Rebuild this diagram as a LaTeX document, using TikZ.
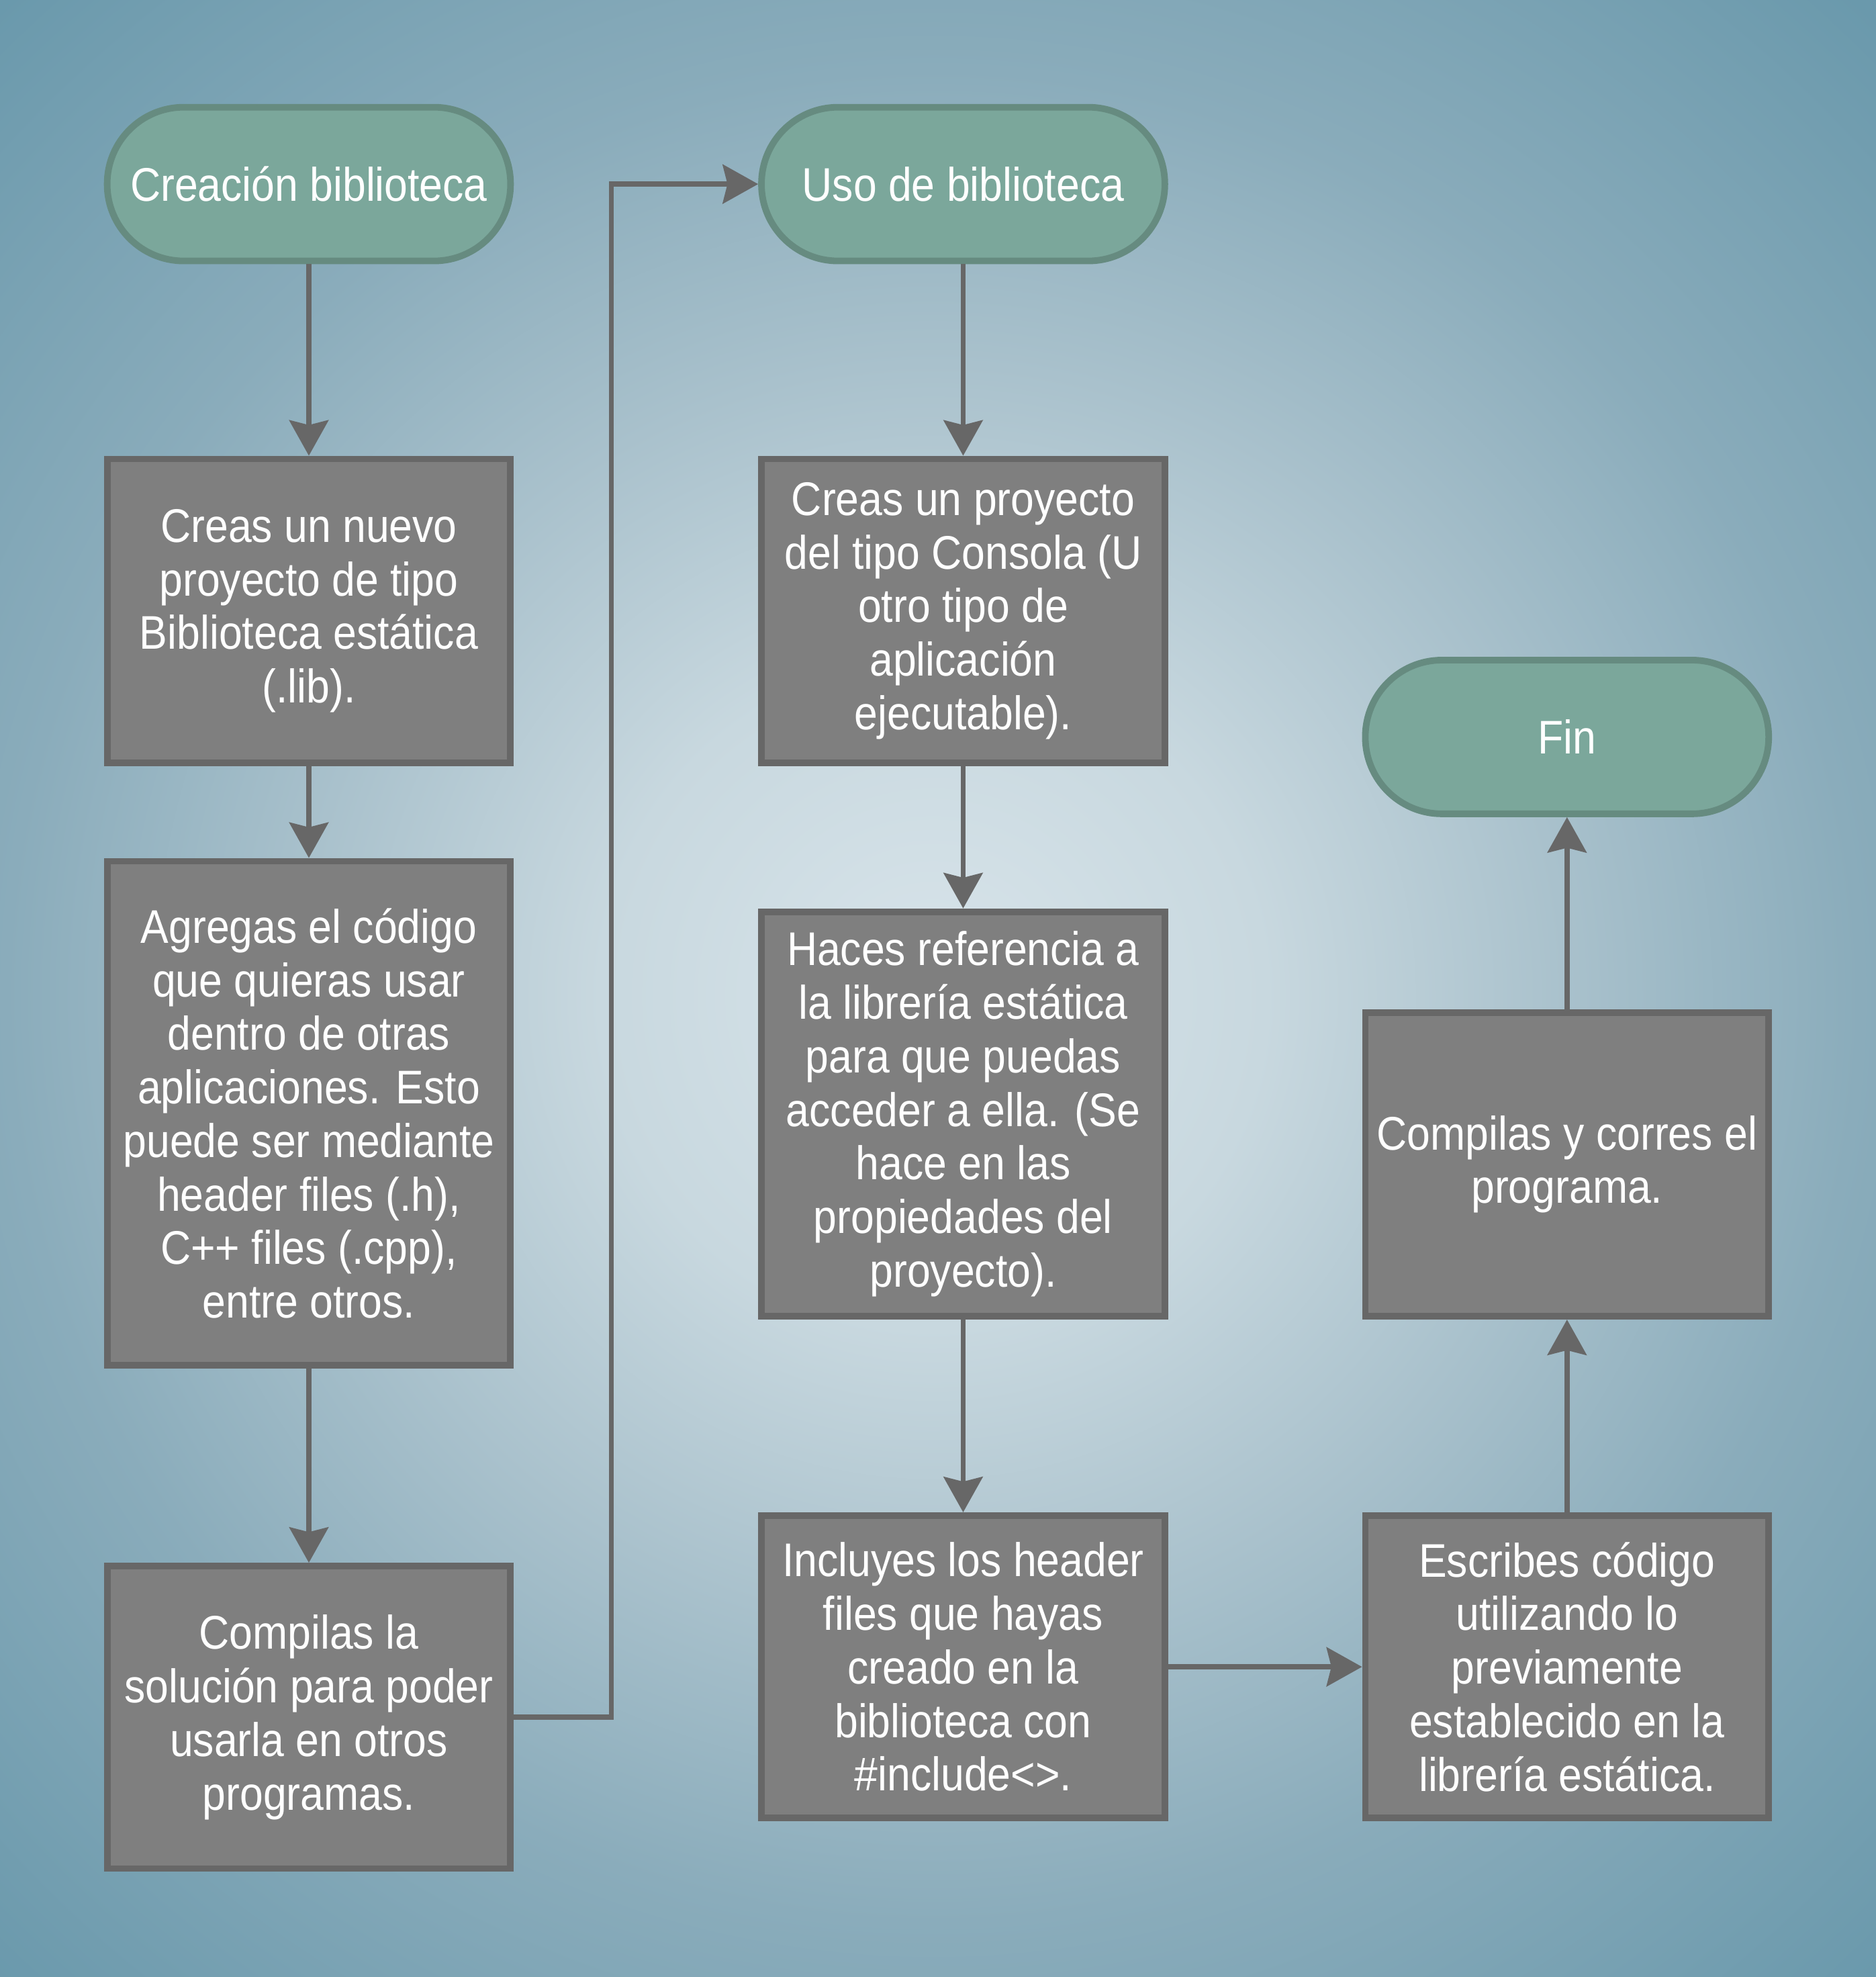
\documentclass[tikz,border=0pt]{standalone}
\usepackage{fontspec}
\setmainfont{Liberation Sans}[FakeStretch=0.89]
\usetikzlibrary{arrows.meta,positioning}
\definecolor{bg0}{HTML}{D8E4EA}
\definecolor{bg1}{HTML}{C8D8DF}
\definecolor{bg2}{HTML}{A9C1CC}
\definecolor{bg3}{HTML}{8AACBB}
\definecolor{bg4}{HTML}{6A99AC}
\definecolor{boxfill}{HTML}{7F7F7F}
\definecolor{boxline}{HTML}{676767}
\definecolor{termfill}{HTML}{7BA79B}
\definecolor{termline}{HTML}{668B80}
\definecolor{arrowc}{HTML}{676767}
\pgfdeclareradialshading{bgshade}{\pgfpoint{0bp}{0bp}}{color(0bp)=(bg0); color(6bp)=(bg1); color(11.4bp)=(bg2); color(16.7bp)=(bg3); color(24.5bp)=(bg4); color(50bp)=(bg4)}
\begin{document}
\begin{tikzpicture}[x=0.018777cm,y=-0.018777cm,
  txt/.style={text=white,font=\fontsize{20pt}{22.7pt}\selectfont,align=center,inner sep=0pt},
  procbox/.style={txt,draw=boxline,fill=boxfill,line width=2.8pt,rectangle,minimum width=6.01cm},
  term/.style={txt,draw=termline,fill=termfill,line width=2.8pt,rectangle,rounded corners=1.14cm,minimum width=6.01cm,minimum height=2.29cm},
  conn/.style={draw=arrowc,line width=2.2pt,-{Stealth[length=15pt,width=16.5pt,inset=2pt]}}]
\useasboundingbox (0,0) rectangle (1488,1568);
\begin{scope}
\clip (0,0) rectangle (1488,1568);
\shade[shading=bgshade] (740,790) circle (1100);
\end{scope}
% column 1
\node[term] (t1) at (245,146) {Creación biblioteca};
\node[procbox,minimum height=4.525cm] (a) at (245,484.5) {Creas un nuevo\\proyecto de tipo\\Biblioteca estática\\(.lib).};
\node[procbox,minimum height=7.511cm] (b) at (245,883) {Agregas el código\\que quieras usar\\dentro de otras\\aplicaciones. Esto\\puede ser mediante\\header files (.h),\\C++ files (.cpp),\\entre otros.};
\node[procbox,minimum height=4.506cm] (c) at (245,1362) {Compilas la\\solución para poder\\usarla en otros\\programas.};
% column 2
\node[term] (t2) at (764,146) {Uso de biblioteca};
\node[procbox,minimum height=4.525cm] (d) at (764,484.5) {Creas un proyecto\\del tipo Consola (U\\otro tipo de\\aplicación\\ejecutable).};
\node[procbox,minimum height=6.027cm] (e) at (764,883.5) {Haces referencia a\\la librería estática\\para que puedas\\acceder a ella. (Se\\hace en las\\propiedades del\\proyecto).};
\node[procbox,minimum height=4.506cm] (f) at (764,1322) {Incluyes los header\\files que hayas\\creado en la\\biblioteca con\\\#include<>.};
% column 3
\node[term] (fin) at (1243,584.5) {Fin};
\node[procbox,minimum height=4.525cm] (h) at (1243,923.5) {Compilas y corres el\\programa.};
\node[procbox,minimum height=4.506cm] (g) at (1243,1322) {Escribes código\\utilizando lo\\previamente\\establecido en la\\librería estática.};
% connectors
\coordinate (cj) at (485,1362);
\draw[conn] (t1) -- (a);
\draw[conn] (a) -- (b);
\draw[conn] (b) -- (c);
\draw[conn] (c.east) -- (cj) |- (t2.west);
\draw[conn] (t2) -- (d);
\draw[conn] (d) -- (e);
\draw[conn] (e) -- (f);
\draw[conn] (f) -- (g);
\draw[conn] (g) -- (h);
\draw[conn] (h) -- (fin);
\end{tikzpicture}
\end{document}
